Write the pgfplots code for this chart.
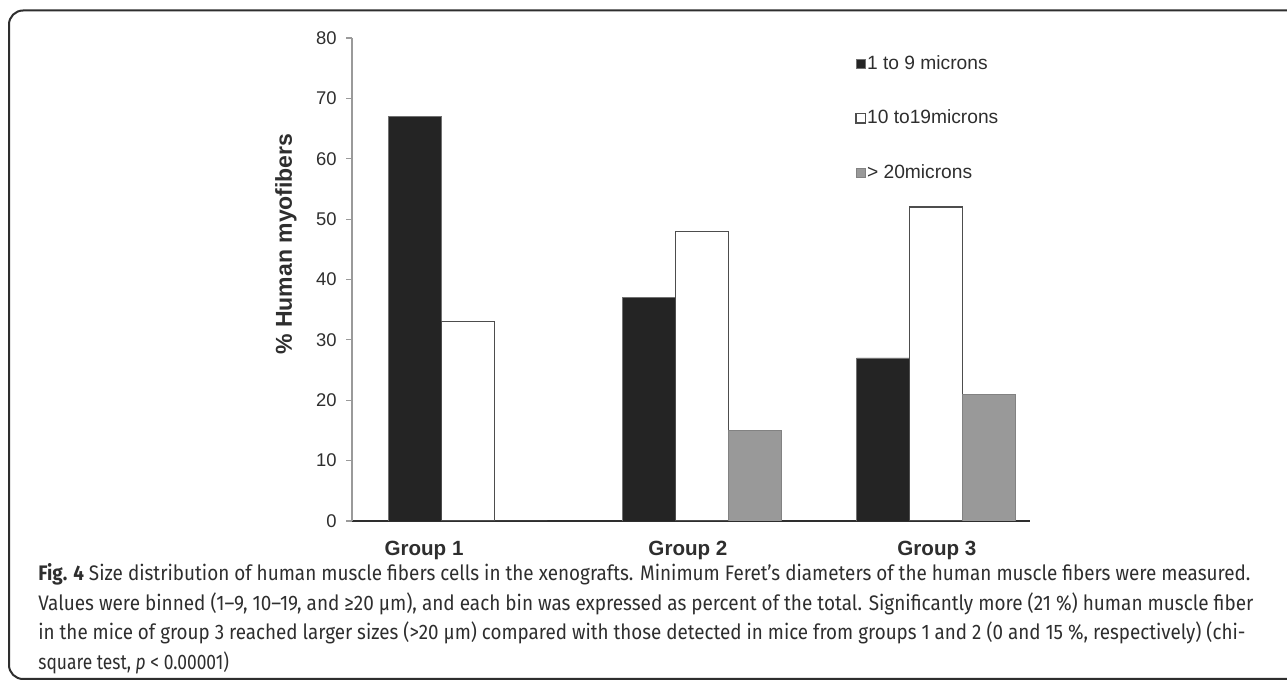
\documentclass[border=0pt]{standalone}
\usepackage{pgfplots}
\pgfplotsset{compat=1.18}
\usepackage{fontspec}
\setmainfont{Liberation Sans}
\newfontfamily\capfont[FakeStretch=0.83]{Fira Sans}
\usepackage{graphicx}
\definecolor{txt}{HTML}{2E2E2E}
\definecolor{barblack}{HTML}{242424}
\definecolor{bargray}{HTML}{999999}
\definecolor{axgray}{HTML}{9A9A9A}
\begin{document}
\begin{tikzpicture}[x=0.5pt,y=0.5pt]
\path[use as bounding box] (0,0) rectangle (1287,681);
\draw[txt, line width=1pt, rounded corners=7pt] (9,2) rectangle (1320,670.5);
\begin{axis}[
  at={(176pt,80pt)}, anchor=south west,
  scale only axis, width=339pt, height=241.5pt,
  xmin=-0.4957, xmax=2.4017, ymin=0, ymax=80,
  axis x line*=bottom, axis y line*=left,
  x axis line style={txt, line width=0.8pt, -},
  y axis line style={axgray, line width=0.6pt, -},
  ytick={0,10,...,80},
  major tick length=3pt, tick align=outside,
  y tick style={axgray, line width=0.6pt},
  xtick={-0.188,0.940,2.004},
  xticklabels={Group 1,Group 2,Group 3},
  x tick style={draw=none},
  xticklabel style={font=\bfseries\fontsize{10.3pt}{12pt}\selectfont, text=txt, inner sep=0pt, anchor=north, yshift=-7pt},
  yticklabel style={font=\fontsize{9.2pt}{11pt}\selectfont, text=txt, inner sep=0pt, anchor=east, xshift=-4.5pt},
  /pgf/number format/assume math mode=true,
  ylabel={\% Human myofibers},
  ylabel style={font=\bfseries\fontsize{11.5pt}{13pt}\selectfont, text=txt, at={(rel axis cs:-0.0973,0.5735)}, anchor=center},
  bar width=0.226,
  legend style={draw=none, fill=none, at={(rel axis cs:0.742,0.967)}, anchor=north west,
    font=\fontsize{9.6pt}{11pt}\selectfont, text=txt, row sep=17.5pt, inner sep=0pt,
    nodes={inner sep=0.6pt}},
  legend cell align=left,
  legend image code/.code={\draw[#1] (0pt,-2.3pt) rectangle (4.6pt,2.3pt);},
]
\addplot[ybar, bar shift=-0.226, fill=barblack, draw=barblack!65!white, line width=0.4pt]
  coordinates {(0,67) (1,37) (2,27)};
\addplot[ybar, bar shift=0, fill=white, draw=txt!85!white, line width=0.6pt]
  coordinates {(0,33) (1,48) (2,52)};
\addplot[ybar, bar shift=0.226, fill=bargray, draw=bargray!85!black, line width=0.4pt]
  coordinates {(0,0) (1,15) (2,21)};
\legend{1 to 9 microns,10 to19microns,> 20microns}
\end{axis}
\begin{scope}[txt]
\node[anchor=base west, inner sep=0pt] at (38,100) {\capfont\resizebox{606pt}{\height}{\fontsize{10.5pt}{12pt}\selectfont\textbf{Fig. 4} Size distribution of human muscle fibers cells in the xenografts. Minimum Feret’s diameters of the human muscle fibers were measured.}};
\node[anchor=base west, inner sep=0pt] at (38,70.5) {\capfont\resizebox{607.5pt}{\height}{\fontsize{10.5pt}{12pt}\selectfont Values were binned (1–9, 10–19, and ≥20 µm), and each bin was expressed as percent of the total. Significantly more (21 \%) human muscle fiber}};
\node[anchor=base west, inner sep=0pt] at (38,41) {\capfont\resizebox{603.5pt}{\height}{\fontsize{10.5pt}{12pt}\selectfont in the mice of group 3 reached larger sizes (>20 µm) compared with those detected in mice from groups 1 and 2 (0 and 15 \%, respectively) (chi-}};
\node[anchor=base west, inner sep=0pt] at (38,11.5) {\capfont\fontsize{10.5pt}{12pt}\selectfont square test, \textit{p} < 0.00001)};
\end{scope}
\end{tikzpicture}
\end{document}
